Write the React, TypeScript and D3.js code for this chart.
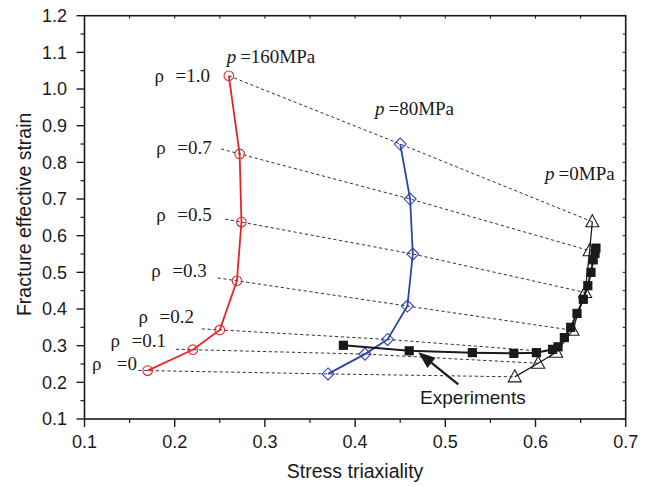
import React from "react";
import * as d3 from "d3";

// Stress-state parameter ρ for each curve point
const rhoLabels = ["0", "0.1", "0.2", "0.3", "0.5", "0.7", "1.0"];

// p = 160 MPa
const triax160 = [0.170, 0.220, 0.250, 0.269, 0.274, 0.272, 0.260];
const strain160 = [0.232, 0.289, 0.343, 0.477, 0.637, 0.823, 1.036];
// p = 80 MPa
const triax80 = [0.370, 0.411, 0.436, 0.458, 0.464, 0.461, 0.450];
const strain80 = [0.223, 0.277, 0.317, 0.408, 0.550, 0.700, 0.850];
// p = 0 MPa
const triax0 = [0.577, 0.603, 0.623, 0.641, 0.655, 0.660, 0.663];
const strain0 = [0.215, 0.252, 0.282, 0.342, 0.445, 0.559, 0.638];

// Experimental points
const expTriax = [0.387, 0.460, 0.530, 0.576, 0.601, 0.619, 0.625, 0.632, 0.639, 0.646, 0.653, 0.658, 0.6615, 0.664, 0.666, 0.667];
const expStrain = [0.301, 0.286, 0.281, 0.279, 0.281, 0.290, 0.297, 0.322, 0.350, 0.388, 0.4265, 0.4636, 0.500, 0.534, 0.552, 0.566];

// Where each iso-ρ dashed line begins on the left (null = starts at the marker)
const dashStartTriax = [0.1597, 0.2014, 0.230, 0.2476, 0.2558, 0.2513, null];
// ρ label anchors (right end, baseline)
const rhoLabelX = [0.1582, 0.1904, 0.2214, 0.2355, 0.2410, 0.2410, 0.2391];
const rhoLabelY = [0.2337, 0.2972, 0.3610, 0.4882, 0.6409, 0.8229, 1.0193];

// Pressure labels
const pressureLabels = ["160MPa", "80MPa", "0MPa"];
const pressureLabelX = [0.2576, 0.422, 0.6106];
const pressureLabelY = [1.072, 0.929, 0.752];

const xTicks = [0.1, 0.2, 0.3, 0.4, 0.5, 0.6, 0.7];
const yTicks = [0.1, 0.2, 0.3, 0.4, 0.5, 0.6, 0.7, 0.8, 0.9, 1.0, 1.1, 1.2];

const W = 650;
const H = 487;
const M = { left: 84.5, right: W - 625.7, top: 15.7, bottom: H - 419 };

const x = d3.scaleLinear().domain([0.1, 0.7]).range([M.left, W - M.right]);
const y = d3.scaleLinear().domain([0.1, 1.2]).range([H - M.bottom, M.top]);

const RED = "#e3262a";
const BLUE = "#2c43a8";
const INK = "#1a1a1a";

const line = d3
  .line<[number, number]>()
  .x((d) => x(d[0]))
  .y((d) => y(d[1]));

const zip = (a: number[], b: number[]): [number, number][] => a.map((v, i) => [v, b[i]]);

export default function App() {
  const pts160 = zip(triax160, strain160);
  const pts80 = zip(triax80, strain80);
  const pts0 = zip(triax0, strain0);
  const ptsExp = zip(expTriax, expStrain);

  const minorX = d3.range(0.15, 0.7, 0.1);
  const minorY = d3.range(0.15, 1.2, 0.1);
  const fineX = d3.range(0.1, 0.7001, 0.05);
  const fineY = d3.range(0.1, 1.2001, 0.05);

  // Iso-ρ dashed lines, extended back along the 160→80 MPa direction
  const dashLines = rhoLabels.map((_, i) => {
    const a = pts160[i];
    const b = pts80[i];
    const pts: [number, number][] = [];
    const sx = dashStartTriax[i];
    if (sx !== null) {
      const slope = (b[1] - a[1]) / (b[0] - a[0]);
      pts.push([sx, a[1] + slope * (sx - a[0])]);
    }
    pts.push(a, b, pts0[i]);
    return pts;
  });

  // Arrow pointing at the experimental curve
  const tail: [number, number] = [0.5144, 0.1947];
  const tip: [number, number] = [0.470, 0.282];
  const tx = x(tail[0]), ty = y(tail[1]);
  const hx = x(tip[0]), hy = y(tip[1]);
  const ang = Math.atan2(hy - ty, hx - tx);
  const headLen = 17, headW = 6.5;
  const bx = hx - headLen * Math.cos(ang);
  const by = hy - headLen * Math.sin(ang);
  const head = [
    [hx, hy],
    [bx + headW * Math.sin(ang), by - headW * Math.cos(ang)],
    [bx - headW * Math.sin(ang), by + headW * Math.cos(ang)],
  ];

  const sans = "'Liberation Sans', Arial, Helvetica, sans-serif";
  const serif = "'Liberation Serif', 'Times New Roman', serif";

  return (
    <svg
      width={W}
      height={H}
      style={{ position: "absolute", left: 0, top: 0, background: "#fff" }}
    >
      {/* iso-ρ dashed connectors */}
      {dashLines.map((pts, i) => (
        <path
          key={"d" + i}
          d={line(pts) || ""}
          fill="none"
          stroke="#333"
          strokeWidth={1}
          strokeDasharray="3.2,2.6"
        />
      ))}

      {/* p = 160 MPa */}
      <path d={line(pts160) || ""} fill="none" stroke={RED} strokeWidth={1.8} />
      {pts160.map((d, i) => (
        <circle key={"c" + i} cx={x(d[0])} cy={y(d[1])} r={4.8} fill="none" stroke={RED} strokeWidth={1.1} />
      ))}

      {/* p = 80 MPa */}
      <path d={line(pts80) || ""} fill="none" stroke={BLUE} strokeWidth={1.8} />
      {pts80.map((d, i) => {
        const cx = x(d[0]), cy = y(d[1]), s = 6;
        return (
          <path
            key={"m" + i}
            d={`M${cx},${cy - s}L${cx + s},${cy}L${cx},${cy + s}L${cx - s},${cy}Z`}
            fill="none"
            stroke={BLUE}
            strokeWidth={1.1}
          />
        );
      })}

      {/* p = 0 MPa */}
      <path d={line(pts0) || ""} fill="none" stroke={INK} strokeWidth={1.3} />
      {pts0.map((d, i) => {
        const cx = x(d[0]), cy = y(d[1]);
        return (
          <path
            key={"t" + i}
            d={`M${cx},${cy - 7}L${cx + 6.5},${cy + 5}L${cx - 6.5},${cy + 5}Z`}
            fill="none"
            stroke={INK}
            strokeWidth={1.1}
          />
        );
      })}

      {/* experiments */}
      <path d={line(ptsExp) || ""} fill="none" stroke={INK} strokeWidth={2} />
      {ptsExp.map((d, i) => (
        <rect key={"s" + i} x={x(d[0]) - 4.6} y={y(d[1]) - 4.6} width={9.2} height={9.2} fill={INK} />
      ))}

      {/* arrow */}
      <line x1={tx} y1={ty} x2={bx} y2={by} stroke={INK} strokeWidth={2.2} />
      <polygon points={head.map((p) => p.join(",")).join(" ")} fill={INK} />
      <text x={x(0.5306)} y={y(0.1409)} textAnchor="middle" fontFamily={sans} fontSize={19} fill={INK}>
        Experiments
      </text>

      {/* ρ labels */}
      {rhoLabels.map((lab, i) => (
        <g key={"r" + i} fontFamily={serif} fontSize={19} fill={INK}>
          <text x={x(rhoLabelX[i])} y={y(rhoLabelY[i])} textAnchor="end">
            {"=" + lab}
          </text>
          <text x={x(rhoLabelX[i]) - (lab.length === 1 ? 45 : 55.5)} y={y(rhoLabelY[i])}>
            ρ
          </text>
        </g>
      ))}

      {/* pressure labels */}
      {pressureLabels.map((lab, i) => (
        <text key={"p" + i} x={x(pressureLabelX[i])} y={y(pressureLabelY[i])} fontFamily={serif} fontSize={19} fill={INK}>
          <tspan fontStyle="italic">p</tspan>
          <tspan dx={4}>{"=" + lab}</tspan>
        </text>
      ))}

      {/* frame */}
      <rect
        x={x(0.1)}
        y={y(1.2)}
        width={x(0.7) - x(0.1)}
        height={y(0.1) - y(1.2)}
        fill="none"
        stroke={INK}
        strokeWidth={1.6}
      />

      {/* bottom axis ticks */}
      {xTicks.map((t) => (
        <g key={"xt" + t}>
          <line x1={x(t)} x2={x(t)} y1={y(0.1)} y2={y(0.1) + 8} stroke={INK} strokeWidth={1.4} />
          <text x={x(t)} y={448} textAnchor="middle" fontFamily={sans} fontSize={18} fill={INK}>
            {t.toFixed(1)}
          </text>
        </g>
      ))}
      {minorX.map((t) => (
        <line key={"xm" + t} x1={x(t)} x2={x(t)} y1={y(0.1)} y2={y(0.1) + 4} stroke={INK} strokeWidth={1.2} />
      ))}
      {/* top and right inner ticks */}
      {fineX.map((t) => (
        <line key={"xf" + t} x1={x(t)} x2={x(t)} y1={y(1.2)} y2={y(1.2) + 3} stroke={INK} strokeWidth={1} />
      ))}
      {fineY.map((t) => (
        <line key={"yf" + t} x1={x(0.7)} x2={x(0.7) - 3} y1={y(t)} y2={y(t)} stroke={INK} strokeWidth={1} />
      ))}

      {/* left axis ticks */}
      {yTicks.map((t) => (
        <g key={"yt" + t}>
          <line x1={x(0.1) - 8} x2={x(0.1)} y1={y(t)} y2={y(t)} stroke={INK} strokeWidth={1.4} />
          <text x={67} y={y(t)} dy="0.35em" textAnchor="end" fontFamily={sans} fontSize={18} fill={INK}>
            {t.toFixed(1)}
          </text>
        </g>
      ))}
      {minorY.map((t) => (
        <line key={"ym" + t} x1={x(0.1) - 4} x2={x(0.1)} y1={y(t)} y2={y(t)} stroke={INK} strokeWidth={1.2} />
      ))}

      {/* axis titles */}
      <text x={(x(0.1) + x(0.7)) / 2} y={478} textAnchor="middle" fontFamily={sans} fontSize={19.5} fill={INK}>
        Stress triaxiality
      </text>
      <text
        transform={`translate(31,${(y(0.1) + y(1.2)) / 2 - 3}) rotate(-90)`}
        textAnchor="middle"
        fontFamily={sans}
        fontSize={19.5}
        fill={INK}
      >
        Fracture effective strain
      </text>
    </svg>
  );
}
